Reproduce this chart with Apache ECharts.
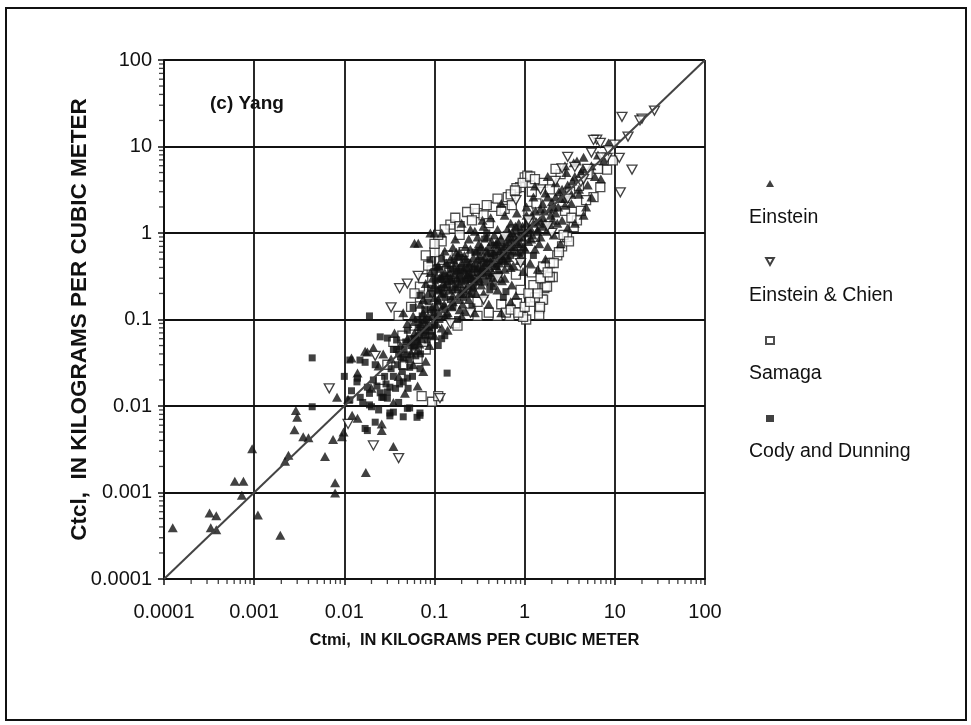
<!DOCTYPE html>
<html><head><meta charset="utf-8">
<script src="https://cdn.jsdelivr.net/npm/echarts@6/dist/echarts.min.js"></script>
<style>html,body{margin:0;padding:0;background:#fff}#c{width:971px;height:725px}</style>
</head><body><div id="c"></div>
<script>
var seriesNames = ['Einstein', 'Einstein & Chien', 'Samaga', 'Cody and Dunning'];
var xTickValues = [0.0001, 0.001, 0.01, 0.1, 1, 10, 100];
var yTickValues = [0.0001, 0.001, 0.01, 0.1, 1, 10, 100];
var minorMultipliers = [2, 3, 4, 5, 6, 7, 8, 9];
var equalityLine = [[0.0001, 0.0001], [100, 100]];

var einstein = [
[0.000125,0.00039],[0.00032,0.00058],[0.00038,0.00054],[0.00033,0.00039],[0.00038,0.00037],[0.00061,0.00135],[0.00076,0.00135],[0.00073,0.00093],[0.00095,0.0032],[0.0011,0.00055],[0.00195,0.00032],[0.0024,0.0027],[0.0022,0.0023],[0.0029,0.0089],[0.003,0.0074],[0.0028,0.0053],[0.0035,0.0044],[0.004,0.0043],[0.0061,0.0026],[0.0079,0.0013],[0.0079,0.00099],[0.0075,0.0041],[0.0094,0.0044],[0.0098,0.005],[0.0122,0.0078],[0.014,0.0072],[0.0173,0.0017],[0.018,0.042],[0.017,0.043],[0.026,0.0062],[0.026,0.0052],[0.035,0.0034],[0.035,0.011],[0.0083,0.0126],
[0.06,0.76],[0.066,0.76],[0.09,1.0],[0.1,1.0],[0.12,1.0],[3.5,6.5],
[0.012,0.036],[0.021,0.047],[0.027,0.04],[0.014,0.024],[0.024,0.029],[0.011,0.012],[0.02,0.016],
[0.045,0.12],[0.07,0.15],[0.085,0.11],[0.036,0.07],[0.05,0.09],[0.062,0.064],[0.078,0.1],[0.09,0.075],
[0.033,0.035],[0.042,0.05],[0.055,0.041],[0.068,0.052],[0.08,0.033],[0.04,0.022],[0.058,0.03],[0.075,0.025],[0.047,0.014],[0.065,0.017],
[0.2,1.3],[0.25,1.1],[0.13,0.62],[0.17,0.85],[0.22,0.7],
[0.11,0.42],[0.13,0.35],[0.15,0.5],[0.18,0.38],[0.2,0.45],[0.23,0.33],[0.27,0.52],[0.3,0.4],
[0.1,0.25],[0.12,0.2],[0.14,0.28],[0.16,0.19],[0.19,0.26],[0.22,0.22],[0.26,0.3],[0.29,0.2],
[0.105,0.14],[0.13,0.11],[0.16,0.16],[0.19,0.13],[0.24,0.17],[0.28,0.12],[0.12,0.08],[0.14,0.075],[0.2,0.11],
[0.55,2.2],[0.35,1.2],[0.42,1.5],[0.5,1.1],[0.6,1.6],[0.7,1.3],[0.82,1.7],[0.95,1.2],
[0.33,0.7],[0.38,0.9],[0.45,0.6],[0.5,0.8],[0.58,0.95],[0.65,0.65],[0.72,0.85],[0.85,0.75],[0.95,0.9],
[0.34,0.4],[0.4,0.5],[0.44,0.35],[0.52,0.45],[0.6,0.38],[0.66,0.52],[0.75,0.42],[0.88,0.48],[0.96,0.36],
[0.35,0.2],[0.42,0.27],[0.5,0.22],[0.6,0.3],[0.72,0.25],[0.8,0.19],[0.4,0.15],[0.55,0.12],[0.7,0.16],
[2.8,6.0],[1.3,3.5],[1.8,4.5],[2.2,3.8],[2.9,5.0],
[1.05,2.0],[1.25,2.6],[1.5,1.9],[1.7,2.9],[2.0,2.3],[2.4,3.0],[2.8,2.1],
[1.05,1.3],[1.2,1.6],[1.4,1.1],[1.6,1.5],[1.9,1.25],[2.2,1.7],[2.6,1.4],[3.0,1.15],
[1.1,0.8],[1.3,0.65],[1.5,0.9],[1.8,0.7],[2.1,0.95],[2.5,0.75],[1.15,0.45],[1.4,0.38],[1.7,0.5],
[8.5,11],[3.8,6.8],[4.5,7.5],[5.5,6.0],[6.5,8.0],[7.5,6.8],[3.4,4.0],[4.2,5.0],[5.0,3.6],[6.0,4.5],[7.0,4.2],
[3.3,2.2],[4.0,2.8],[4.8,2.0],[5.5,2.6],[3.6,1.3],[4.5,1.6],
[0.085,0.2],[0.095,0.3],[0.11,0.17],[0.125,0.26],[0.135,0.45],[0.145,0.22],[0.165,0.4],[0.175,0.6],[0.185,0.17],[0.21,0.38],[0.215,0.55],[0.235,0.25],[0.25,0.65],[0.27,0.42],[0.31,0.3],[0.32,0.55],[0.37,0.62],[0.39,0.36],[0.43,0.8],[0.47,0.42],[0.48,0.3],[0.53,0.62],[0.57,0.5],[0.63,0.75],[0.68,1.0],[0.74,0.62],[0.78,0.9],[0.86,1.3],[0.9,0.55],[1.0,1.0],[1.02,0.65],[1.15,1.15],[1.22,0.95],[1.35,1.35],[1.45,0.75],[1.55,1.2],[1.65,1.8],[1.75,1.05],[1.95,1.6],[2.1,2.0],[2.3,1.3],[2.5,2.5],[0.07,0.09],[0.058,0.11],[0.095,0.14],[0.1,0.065],[0.075,0.17],
[0.05,0.06],[0.06,0.07],[0.065,0.045],[0.072,0.06],[0.082,0.085],[0.088,0.05],[0.095,0.11],[0.105,0.09],[0.112,0.12],[0.118,0.32],[0.128,0.15],[0.14,0.12],[0.148,0.35],[0.155,0.14],[0.17,0.24],[0.178,0.3],[0.19,0.2],[0.2,0.33],[0.205,0.15],[0.225,0.3],[0.23,0.4],[0.245,0.2],[0.26,0.36],[0.28,0.28],[0.3,0.5],[0.33,0.25],[0.35,0.33],[0.37,0.45],[0.4,0.7],[0.41,0.4],[0.44,0.52],[0.46,0.95],[0.49,0.65],[0.51,0.38],[0.54,0.85],[0.56,0.28],[0.59,0.7],[0.62,0.55],[0.64,1.1],[0.67,0.8],[0.7,0.4],[0.73,1.0],[0.76,0.7],[0.79,1.2],[0.83,0.6],[0.87,0.9],[0.92,1.05],[0.97,0.7],[1.05,1.6],[1.1,1.1],[1.18,0.85],[1.25,1.3],[1.32,1.8],[1.38,1.05],[1.48,1.4],[1.58,2.2],[1.68,1.3],[1.8,2.6],[1.9,1.9],[2.05,1.4],[2.2,2.6],[2.35,2.0],[2.6,3.2],[2.8,2.5],[3.0,3.6],[3.3,2.8],[3.6,4.5],[4.0,3.2],[4.4,5.5],[0.3,0.9],[0.24,0.85],[0.28,1.05],[0.34,1.4],[0.18,0.55],[0.16,0.68],[0.12,0.3],[0.1,0.18],[0.09,0.35],[0.08,0.26],
[0.15,0.3],[0.17,0.45],[0.19,0.6],[0.22,0.5],[0.25,0.45],[0.29,0.62],[0.31,0.75],[0.36,0.52],[0.39,0.6],[0.43,0.45],[0.48,0.75],[0.55,0.55],[0.6,0.48],[0.66,0.9],[0.72,0.7],[0.8,0.8],[0.9,0.75],[0.2,0.2],[0.26,0.25],[0.32,0.35],[0.11,0.22],[0.13,0.24],[0.075,0.12],[0.06,0.095]
];

var einsteinChien = [
[0.021,0.0035],[0.04,0.0025],[0.011,0.0062],[0.0068,0.016],[0.022,0.038],
[0.066,0.32],[0.05,0.26],[0.041,0.23],[0.033,0.138],[0.115,0.0123],
[3.0,7.6],[2.6,5.6],[15.5,5.4],[11.5,2.95],[12,22],[20,21],[19,20],[27.5,26],[6.3,12],
[5.8,11.9],[6.9,11],[11.2,7.4],[8.2,7.4],[5,5.5],[7,7.5],[8.5,9],[10,10.5],[4.2,3.9],[14,13],
[0.8,2.4],[1.5,3.2],[2.0,1.0],[0.5,0.3],[0.25,0.12],[0.6,0.9],[3.0,2.5],[4.5,4.2],[1.1,1.4],
[2.2,4.0],[3.6,5.8],[5.5,8.5],[1.8,1.2],[0.9,0.45],[0.35,0.17],[0.15,0.09]
];

var samaga = [
[1.55,0.17],[1.45,0.135],[1.45,0.113],[1.65,0.23],[0.23,1.75],[0.3,1.7],[0.65,2.6],[0.89,3.4],[1.0,4.4],[1.07,4.6],[2.05,0.31],[1.7,0.24],[0.82,0.155],[1.04,0.1],[0.094,0.0112],[0.069,0.18],[0.069,0.24],
[0.81,3.3],[0.95,3.8],[1.15,4.5],[0.16,1.12],[0.115,0.49],[0.093,0.37],
[1.6,0.41],[1.9,0.31],[1.77,0.24],[1.6,0.17],[1.48,0.14],[0.96,0.107],
[3.5,1.17],[2.95,0.9],[3.8,1.4],[5.8,2.6],[6.9,3.4],[8.2,5.4],[9.5,6.9],
[0.04,0.11],[0.055,0.14],[0.06,0.085],[0.035,0.055],[0.08,0.045],[0.045,0.03],[0.072,0.013],[0.11,0.013],
[0.1,0.6],[0.12,0.8],[0.15,1.25],[0.19,0.95],[0.14,0.55],[0.21,0.6],[0.25,0.25],[0.3,0.16],[0.17,0.09],[0.18,0.085],
[0.35,1.6],[0.45,2.0],[0.6,1.9],[0.4,1.3],[0.75,1.1],[0.5,0.5],[0.8,0.33],[0.55,0.15],[0.68,0.11],[0.9,0.22],[0.5,0.11],
[1.2,3.0],[1.6,3.8],[2.5,4.8],[1.1,1.8],[1.35,2.2],[2.8,1.8],[1.3,0.9],[2.3,0.55],[1.2,0.35],[1.9,0.45],[2.6,0.7],[1.25,0.25],[1.3,0.18],
[3.2,3.0],[4.0,3.5],[5.0,4.8],[6.5,5.5],
[0.06,0.2],[0.075,0.3],[0.085,0.42],[0.08,0.55],[0.1,0.75],[0.11,0.95],[0.13,1.1],[0.17,1.5],[0.19,1.2],[0.26,1.4],[0.28,1.9],[0.38,2.1],[0.5,2.5],[0.55,1.8],[0.72,2.1],[0.7,2.8],[0.78,3.1],[1.3,4.2],[1.9,3.2],[2.2,5.5],[0.3,0.11],[0.4,0.12],[0.62,0.12],[0.7,0.13],[0.85,0.12],[1.0,0.14],[1.1,0.2],[1.15,0.16],[1.4,0.2],[1.5,0.3],[1.8,0.35],[2.1,0.45],[2.4,0.6],[2.7,0.95],[3.1,0.8],[3.3,1.5],[4.2,1.8],[4.8,2.4],[0.05,0.045],[0.065,0.035],[0.075,0.055],[0.03,0.03],[0.025,0.02],[0.044,0.065]
];

var codyDunning = [
[0.0044,0.036],[0.0044,0.0098],[0.0115,0.034],[0.0149,0.034],[0.017,0.032],[0.022,0.030],[0.018,0.0052],[0.020,0.0098],[0.032,0.0077],[0.05,0.0094],[0.064,0.0074],[0.069,0.0078],[0.010,0.022],[0.0138,0.019],[0.025,0.0142],[0.032,0.0165],[0.041,0.018],[0.05,0.021],[0.138,0.024],[0.019,0.11],[0.017,0.0055],[0.03,0.0123],[0.026,0.0126],
[0.025,0.063],[0.03,0.061],[0.038,0.058],[0.038,0.045],[0.05,0.039],[0.058,0.048],[0.053,0.028],[0.069,0.027],[0.045,0.019],[0.051,0.016],[0.03,0.0145],[0.027,0.0126],[0.019,0.0103],[0.032,0.0083],[0.053,0.0095],[0.069,0.0083],[0.0115,0.0118],[0.015,0.0126],[0.018,0.0165],[0.083,0.058],[0.089,0.081],[0.074,0.091],[0.058,0.138],[0.069,0.19],[0.089,0.49],[0.106,0.40],[0.123,0.29],[0.158,0.22],[0.21,0.18],[0.115,0.1],[0.138,0.107],[0.19,0.52],[0.32,0.63],[0.49,0.41],[0.25,0.29],[0.41,0.22],[0.58,0.18],
[0.11,0.3],[0.14,0.42],[0.17,0.32],[0.24,0.4],[0.28,0.6],[0.12,0.23],[0.15,0.17],[0.2,0.27],[0.26,0.14],[0.13,0.13],[0.18,0.1],[0.22,0.12],[0.12,0.06],[0.13,0.065],[0.11,0.05],
[0.36,0.85],[0.55,0.7],[0.4,0.32],[0.7,0.55],[0.45,0.24],[0.62,0.21],[0.8,1.05],[0.9,0.6],[0.38,1.0],[1.1,1.0],[1.25,0.55],
[0.09,0.23],[0.1,0.36],[0.12,0.5],[0.13,0.18],[0.155,0.28],[0.165,0.48],[0.18,0.22],[0.195,0.36],[0.23,0.46],[0.27,0.23],[0.3,0.35],[0.33,0.48],[0.36,0.27],[0.42,0.58],[0.46,0.72],[0.52,0.33],[0.58,0.6],[0.64,0.44],[0.09,0.13],[0.065,0.1],[0.08,0.075],[0.1,0.085],
[0.012,0.015],[0.014,0.021],[0.016,0.011],[0.019,0.014],[0.021,0.02],[0.023,0.017],[0.024,0.009],[0.028,0.022],[0.029,0.018],[0.033,0.027],[0.035,0.022],[0.037,0.016],[0.039,0.03],[0.042,0.037],[0.044,0.025],[0.046,0.045],[0.048,0.055],[0.052,0.034],[0.055,0.06],[0.057,0.022],[0.06,0.05],[0.062,0.038],[0.066,0.08],[0.068,0.065],[0.07,0.04],[0.073,0.11],[0.076,0.07],[0.078,0.13],[0.082,0.1],[0.085,0.16],[0.092,0.065],[0.095,0.2],[0.098,0.12],[0.102,0.28],[0.108,0.16],[0.11,0.22],[0.115,0.38],[0.125,0.14],[0.13,0.32],[0.14,0.25],[0.15,0.38],[0.16,0.14],[0.17,0.26],[0.19,0.3],[0.21,0.22],[0.23,0.34],[0.26,0.2],[0.28,0.38],[0.31,0.27],[0.34,0.36],[0.38,0.45],[0.43,0.3],[0.47,0.55],[0.52,0.48],[0.035,0.0085],[0.04,0.011],[0.022,0.0065],[0.045,0.0075],
[0.125,0.2],[0.145,0.3],[0.175,0.36],[0.2,0.4],[0.22,0.28],[0.24,0.33],[0.27,0.3],[0.3,0.42],[0.35,0.4],[0.04,0.04],[0.045,0.035],[0.055,0.05],[0.06,0.06],[0.07,0.075],[0.065,0.055],[0.05,0.075],[0.035,0.045],[0.08,0.065]
];

// minor tick positions (2..9 x each decade) for axis decoration
var minorTicks = [];
for (var d = 0; d < xTickValues.length - 1; d++) {
  for (var m = 0; m < minorMultipliers.length; m++) {
    minorTicks.push(+(xTickValues[d] * minorMultipliers[m]).toPrecision(6));
  }
}
var xMinorData = minorTicks.map(function (v) { return [v, yTickValues[0]]; });
var yMinorData = minorTicks.map(function (v) { return [xTickValues[0], v]; });

var FONT = '"Liberation Sans", Arial, sans-serif';
var fmt = function (v) { return String(Number((+v).toPrecision(6))); };
var invTri = 'path://M0,0 L10,0 L5,9 Z';

var chart = echarts.init(document.getElementById('c'), null, { renderer: 'canvas' });
chart.setOption({
  backgroundColor: '#fff',
  animation: false,
  textStyle: { fontFamily: FONT },
  title: {
    text: '(c) Yang', left: 205, top: 89,
    textStyle: { fontFamily: FONT, fontSize: 19, fontWeight: 'bold', color: '#111' }
  },
  graphic: [{
    type: 'rect', shape: { x: 6, y: 8, width: 960, height: 712 },
    style: { fill: 'none', stroke: '#111', lineWidth: 2 }, silent: true, z: 100
  }],
  grid: { left: 164, top: 60, width: 541, height: 519, show: false },
  xAxis: {
    type: 'log', logBase: 10, min: 0.0001, max: 100, splitNumber: 6,
    name: 'Ctmi,  IN KILOGRAMS PER CUBIC METER', nameLocation: 'middle', nameGap: 53,
    nameMoveOverlap: false,
    nameTextStyle: { fontFamily: FONT, fontSize: 16.5, fontWeight: 'bold', color: '#111', padding: [0, 0, 0, 80] },
    axisLine: { lineStyle: { color: '#111', width: 2 } },
    axisTick: { show: true, length: 6, lineStyle: { color: '#111', width: 1.5 } },
    axisLabel: { formatter: fmt, margin: 23, fontSize: 20, color: '#111', fontFamily: FONT },
    splitLine: { show: true, lineStyle: { color: '#111', width: 1.8 } }
  },
  yAxis: {
    type: 'log', logBase: 10, min: 0.0001, max: 100, splitNumber: 6,
    name: 'Ctcl,  IN KILOGRAMS PER CUBIC METER', nameLocation: 'middle', nameGap: 73,
    nameMoveOverlap: false,
    nameTextStyle: { fontFamily: FONT, fontSize: 22.5, fontWeight: 'bold', color: '#111' },
    axisLine: { lineStyle: { color: '#111', width: 2 } },
    axisTick: { show: true, length: 6, lineStyle: { color: '#111', width: 1.5 } },
    axisLabel: { formatter: fmt, margin: 12, fontSize: 20, color: '#111', fontFamily: FONT },
    splitLine: { show: true, lineStyle: { color: '#111', width: 1.8 } }
  },
  legend: [{
    orient: 'vertical', left: 760, top: 175, itemWidth: 8, itemHeight: 7, itemGap: 70,
    data: seriesNames, formatter: function () { return ''; },
    textStyle: { fontSize: 7, lineHeight: 7 }, selectedMode: false
  }, {
    orient: 'vertical', left: 738, top: 202, itemWidth: 0, itemHeight: 0, itemGap: 56,
    data: seriesNames, icon: 'rect', selectedMode: false,
    itemStyle: { opacity: 0 },
    textStyle: { fontFamily: FONT, fontSize: 19.5, lineHeight: 22, color: '#111' }
  }],
  series: [
    { type: 'line', data: equalityLine, symbol: 'none', silent: true, z: 5,
      lineStyle: { color: '#444', width: 2 } },
    { name: 'Einstein', type: 'scatter', data: einstein, symbol: 'triangle', symbolSize: [10, 9],
      itemStyle: { color: '#111' }, z: 3, silent: true },
    { name: 'Einstein & Chien', type: 'scatter', data: einsteinChien, symbol: invTri, symbolSize: [10, 9],
      itemStyle: { color: '#fff', borderColor: '#111', borderWidth: 1.3 }, z: 4, silent: true },
    { name: 'Samaga', type: 'scatter', data: samaga, symbol: 'rect', symbolSize: 9,
      itemStyle: { color: '#fff', borderColor: '#222', borderWidth: 1.3 }, z: 2, silent: true },
    { name: 'Cody and Dunning', type: 'scatter', data: codyDunning, symbol: 'rect', symbolSize: 7,
      itemStyle: { color: '#111' }, z: 3, silent: true },
    { type: 'scatter', data: xMinorData, symbol: 'rect', symbolSize: [1.3, 5], symbolOffset: [0, 2.5],
      itemStyle: { color: '#111' }, silent: true, z: 10, clip: false },
    { type: 'scatter', data: yMinorData, symbol: 'rect', symbolSize: [5, 1.3], symbolOffset: [-2.5, 0],
      itemStyle: { color: '#111' }, silent: true, z: 10, clip: false }
  ]
});
</script>
</body></html>
